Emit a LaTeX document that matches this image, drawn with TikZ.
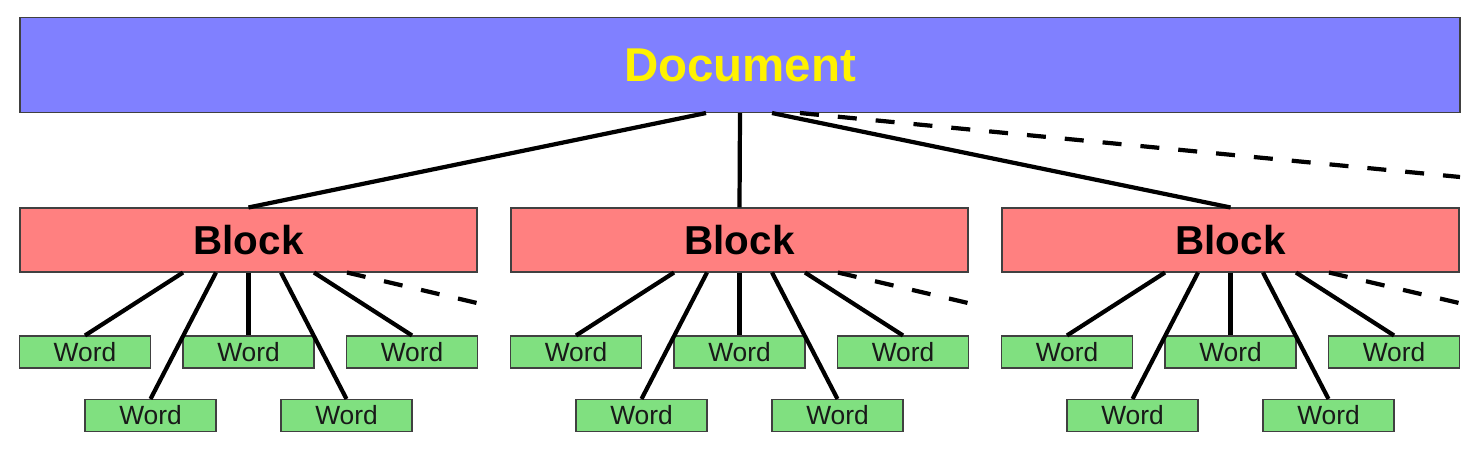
\documentclass[tikz,border=0pt]{standalone}
\usepackage{fontspec}
\setmainfont{Liberation Sans}
\definecolor{docblue}{HTML}{8080FF}
\definecolor{blockred}{HTML}{FF8080}
\definecolor{wordgreen}{HTML}{80E080}
\begin{document}
\begin{tikzpicture}[
  box/.style={draw=black!75, line width=0.6pt, inner sep=0pt},
  docbox/.style={box, fill=docblue, minimum width=28.8cm, minimum height=1.9cm,
    text=yellow, font=\bfseries\fontsize{27}{32}\selectfont},
  blockbox/.style={box, fill=blockred, minimum width=9.14cm, minimum height=1.28cm,
    font=\bfseries\fontsize{23}{28}\selectfont},
  wordbox/.style={box, fill=wordgreen, minimum width=2.62cm, minimum height=0.64cm,
    text=black!90, font=\fontsize{15}{18}\selectfont},
  link/.style={line width=2.4pt},
  more/.style={link, dash pattern=on 0.38cm off 0.38cm}
]
\useasboundingbox (0,0) rectangle (29.58,9.08);

% ---- document ----
\node[docbox] (doc) at (14.8,7.78) {Document};

% ---- blocks ----
\node[blockbox] (b1) at (4.97,4.28) {Block};
\node[blockbox] (b2) at (14.79,4.28) {Block};
\node[blockbox] (b3) at (24.61,4.28) {Block};

\coordinate (docmore) at (29.2,5.54);
\draw[link] ([xshift=-0.68cm]doc.south) -- (b1.north);
\draw[link] (doc.south) -- (b2.north);
\draw[link] ([xshift=0.64cm]doc.south) -- (b3.north);
\draw[more] ([xshift=1.2cm]doc.south) -- (docmore);

% ---- words of block 1 ----
\node[wordbox] (w1a) at (1.70,2.04) {Word};
\node[wordbox] (w1b) at (3.01,0.77) {Word};
\node[wordbox] (w1c) at (4.97,2.04) {Word};
\node[wordbox] (w1d) at (6.93,0.77) {Word};
\node[wordbox] (w1e) at (8.24,2.04) {Word};
\coordinate (m1) at (9.54,3.02);

\draw[link] ([xshift=-1.31cm]b1.south) -- (w1a.north);
\draw[link] ([xshift=-0.65cm]b1.south) -- (w1b.north);
\draw[link] (b1.south) -- (w1c.north);
\draw[link] ([xshift=0.65cm]b1.south) -- (w1d.north);
\draw[link] ([xshift=1.31cm]b1.south) -- (w1e.north);
\draw[more] ([xshift=1.97cm]b1.south) -- (m1);

% ---- words of block 2 ----
\node[wordbox] (w2a) at (11.52,2.04) {Word};
\node[wordbox] (w2b) at (12.83,0.77) {Word};
\node[wordbox] (w2c) at (14.79,2.04) {Word};
\node[wordbox] (w2d) at (16.75,0.77) {Word};
\node[wordbox] (w2e) at (18.06,2.04) {Word};
\coordinate (m2) at (19.36,3.02);

\draw[link] ([xshift=-1.31cm]b2.south) -- (w2a.north);
\draw[link] ([xshift=-0.65cm]b2.south) -- (w2b.north);
\draw[link] (b2.south) -- (w2c.north);
\draw[link] ([xshift=0.65cm]b2.south) -- (w2d.north);
\draw[link] ([xshift=1.31cm]b2.south) -- (w2e.north);
\draw[more] ([xshift=1.97cm]b2.south) -- (m2);

% ---- words of block 3 ----
\node[wordbox] (w3a) at (21.34,2.04) {Word};
\node[wordbox] (w3b) at (22.65,0.77) {Word};
\node[wordbox] (w3c) at (24.61,2.04) {Word};
\node[wordbox] (w3d) at (26.57,0.77) {Word};
\node[wordbox] (w3e) at (27.88,2.04) {Word};
\coordinate (m3) at (29.18,3.02);

\draw[link] ([xshift=-1.31cm]b3.south) -- (w3a.north);
\draw[link] ([xshift=-0.65cm]b3.south) -- (w3b.north);
\draw[link] (b3.south) -- (w3c.north);
\draw[link] ([xshift=0.65cm]b3.south) -- (w3d.north);
\draw[link] ([xshift=1.31cm]b3.south) -- (w3e.north);
\draw[more] ([xshift=1.97cm]b3.south) -- (m3);

\end{tikzpicture}
\end{document}
